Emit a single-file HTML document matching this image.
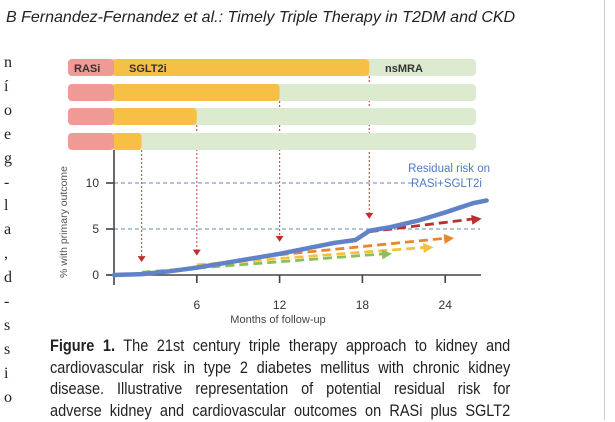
<!DOCTYPE html>
<html><head><meta charset="utf-8"><style>
body{margin:0;width:615px;height:420px;overflow:hidden;background:#fff;position:relative;font-family:"Liberation Sans",sans-serif}
#hdr{position:absolute;left:6px;top:9px;font-style:italic;font-size:16px;color:#222;white-space:nowrap}
#vline{position:absolute;left:604px;top:0;width:1px;height:420px;background:#ccc}
.lc{position:absolute;left:4px;font-family:"Liberation Serif",serif;font-size:16px;color:#222}
#cap{position:absolute;left:50px;top:336px;width:523px;transform:scaleX(0.88);transform-origin:0 0;font-family:"Liberation Sans",sans-serif;font-size:16.5px;line-height:21.5px;color:#222}
#cap div{text-align:justify;text-align-last:justify;white-space:nowrap}
</style></head><body>
<div id="hdr">B Fernandez-Fernandez et al.: Timely Triple Therapy in T2DM and CKD</div>
<div id="vline"></div>
<div id="leftcol"></div>
<svg id="chart" width="615" height="420" style="position:absolute;left:0;top:0" font-family="Liberation Sans, sans-serif"></svg>
<div id="cap">
<div><b>Figure 1.</b> The 21st century triple therapy approach to kidney and</div>
<div>cardiovascular risk in type 2 diabetes mellitus with chronic kidney</div>
<div>disease. Illustrative representation of potential residual risk for</div>
<div>adverse kidney and cardiovascular outcomes on RASi plus SGLT2</div>
</div>
<script>
const leftChars=["n","í","o","e","g","-","l","a",",","d","-","s","s","i","o"];
const sgltEnds=[18.5,12,6,2];
const blueMonths=[0,2,4,6,8,10,12,14,16,17.5,18.5,20,22,24,26,27];
const blueVals=[0,0.1,0.4,0.8,1.3,1.8,2.3,2.9,3.5,3.8,4.8,5.2,5.9,6.8,7.8,8.1];
const dashStartM=[18.5,12,6,2];
const dashStartV=[4.7,2.2,1.1,0.3];
const dashEndM=[26.5,24.5,23,20];
const dashEndV=[6.1,4.0,3.0,2.3];
const dashColors=["#b83030","#e8862e","#f3c23a","#8cbf5a"];
const xTicks=[6,12,18,24];
const yTicks=[0,5,10];
const lc=document.getElementById('leftcol');
leftChars.forEach((c,i)=>{const d=document.createElement('div');d.className='lc';d.style.top=(54+i*23.9)+'px';d.textContent=c;


lc.appendChild(d);});
const ns='http://www.w3.org/2000/svg',svg=document.getElementById('chart');
function el(t,a,p){const e=document.createElementNS(ns,t);for(const k in a)e.setAttribute(k,a[k]);(p||svg).appendChild(e);return e;}
const X=m=>114+m*13.8, Y=v=>275-v*9.2;
const rowY=[59,84,108,133];
rowY.forEach((y,i)=>{
 const g=el('g',{});
 let r=el('rect',{x:68,y:y,width:408,height:17,rx:4,fill:'#dcebd0'},g);
 
 r=el('rect',{x:X(0)-2,y:y,width:X(sgltEnds[i])-X(0)+2,height:17,rx:4,fill:'#f6bf45'},g);
 
 r=el('rect',{x:68,y:y,width:46,height:17,rx:4,fill:'#ef9a94'},g);
 
 const ex=X(sgltEnds[i]);
 let ai=blueMonths.findIndex(m=>m>=sgltEnds[i]);
 let vv=blueVals[ai]-(blueMonths[ai]-sgltEnds[i])*(blueVals[ai]-(blueVals[ai-1]||0))/((blueMonths[ai]-(blueMonths[ai-1]||0))||1);
 const ay=Y(vv)-12;
 let l=el('line',{x1:ex,y1:y+17,x2:ex,y2:ay-6,stroke:'#d9534f','stroke-width':1.2,'stroke-dasharray':'2 2'});
 
 let p=el('polygon',{points:`${ex-4},${ay-6} ${ex+4},${ay-6} ${ex},${ay}`,fill:'#c0302c'});
 
});
let t=el('text',{x:74,y:72,'font-size':11,'font-weight':'bold',fill:'#333'});t.textContent='RASi';

t=el('text',{x:129,y:72,'font-size':11,'font-weight':'bold',fill:'#333'});t.textContent='SGLT2i';

t=el('text',{x:385,y:72,'font-size':11,'font-weight':'bold',fill:'#333'});t.textContent='nsMRA';

[[10,412],[5,480]].forEach(([v,x2])=>{const l=el('line',{x1:X(0),y1:Y(v),x2:x2,y2:Y(v),stroke:'#6a88b0','stroke-width':1,'stroke-dasharray':'4 3'});
});
let a=el('line',{x1:X(0),y1:150,x2:X(0),y2:Y(0)+10,stroke:'#444','stroke-width':1.6});

a=el('line',{x1:X(0)-6,y1:Y(0),x2:481,y2:Y(0),stroke:'#444','stroke-width':1.6});

xTicks.forEach(m=>{const l=el('line',{x1:X(m),y1:Y(0),x2:X(m),y2:Y(0)+8,stroke:'#444','stroke-width':1.6});

const tt=el('text',{x:X(m),y:309,'font-size':12,'text-anchor':'middle',fill:'#333'});tt.textContent=m;
});
yTicks.forEach(v=>{const l=el('line',{x1:X(0)-8,y1:Y(v),x2:X(0),y2:Y(v),stroke:'#444','stroke-width':1.6});

const tt=el('text',{x:X(0)-15,y:Y(v)+4,'font-size':12,'text-anchor':'end',fill:'#333'});tt.textContent=v;
});
t=el('text',{x:278,y:323,'font-size':11,'text-anchor':'middle',fill:'#444'});t.textContent='Months of follow-up';

t=el('text',{x:0,y:0,'font-size':10.5,'text-anchor':'middle',fill:'#555',transform:'translate(67,222) rotate(-90)'});t.textContent='% with primary outcome';

dashStartM.forEach((m,i)=>{const x1=X(m),y1=Y(dashStartV[i]),x2=X(dashEndM[i]),y2=Y(dashEndV[i]);
const l=el('line',{x1:x1,y1:y1,x2:x2-6,y2:y2,stroke:dashColors[i],'stroke-width':2.8,'stroke-dasharray':'9 5'});

const ang=Math.atan2(y2-y1,x2-x1),c=Math.cos(ang),s=Math.sin(ang);
const p=el('polygon',{points:`${x2+c*2},${y2+s*2} ${x2-c*8-s*5},${y2-s*8+c*5} ${x2-c*8+s*5},${y2-s*8-c*5}`,fill:dashColors[i]});
});
const bl=el('polyline',{points:blueMonths.map((m,i)=>X(m)+','+Y(blueVals[i])).join(' '),fill:'none',stroke:'#5f82c9','stroke-width':4.5,'stroke-linejoin':'round','stroke-linecap':'round'});

t=el('text',{x:490,y:172,'font-size':11.5,'text-anchor':'end',fill:'#4f7ac4'});t.textContent='Residual risk on';

t=el('text',{x:482,y:187,'font-size':11.5,'text-anchor':'end',fill:'#4f7ac4'});t.textContent='RASi+SGLT2i';

</script>
</body></html>
